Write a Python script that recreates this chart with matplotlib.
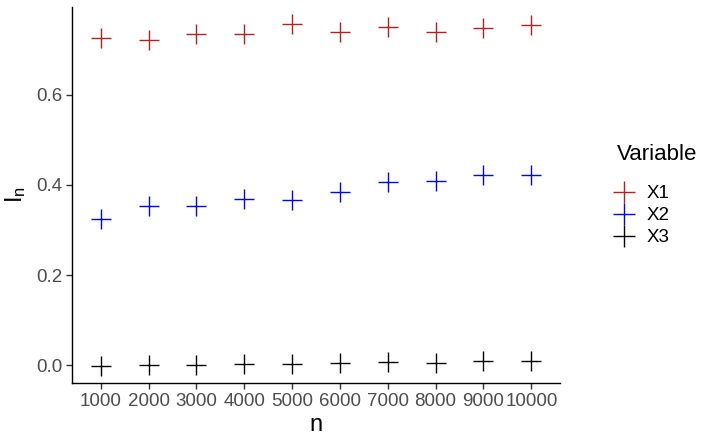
import matplotlib
matplotlib.use('Agg')
import matplotlib.pyplot as plt
import numpy as np

# sample sizes (discrete axis) and estimated index I_n per variable
n_labels = ['1000', '2000', '3000', '4000', '5000', '6000', '7000', '8000', '9000', '10000']
x1 = [0.725, 0.720, 0.733, 0.733, 0.756, 0.738, 0.749, 0.738, 0.747, 0.754]
x2 = [0.325, 0.353, 0.353, 0.369, 0.367, 0.384, 0.406, 0.408, 0.422, 0.422]
x3 = [-0.001, 0.002, 0.002, 0.004, 0.004, 0.006, 0.008, 0.006, 0.011, 0.010]

series = [('X1', x1, '#B22222'), ('X2', x2, '#0000FF'), ('X3', x3, '#000000')]

plt.rcParams['font.family'] = ['Liberation Sans', 'DejaVu Sans']
fig = plt.figure(figsize=(7.19, 4.43), dpi=100)
ax = fig.add_axes([0.1001, 0.1354, 0.6788, 0.8488])

pos = np.arange(1, len(n_labels) + 1)
for name, vals, col in series:
    ax.plot(pos, vals, ls='none', marker='+', ms=14.5, mew=1.0, color=col, label=name)

ax.set_xlim(0.4, len(n_labels) + 0.6)
lo = min(min(s[1]) for s in series)
hi = max(max(s[1]) for s in series)
pad = 0.05 * (hi - lo)
ax.set_ylim(lo - pad, hi + pad)
ax.set_xticks(pos)
ax.set_xticklabels(n_labels)
ax.set_yticks([0.0, 0.2, 0.4, 0.6])
ax.set_yticklabels(['0.0', '0.2', '0.4', '0.6'])

for s in ['top', 'right']:
    ax.spines[s].set_visible(False)
for s in ['left', 'bottom']:
    ax.spines[s].set_linewidth(1.0)
ax.tick_params(axis='both', length=4, width=1.0, color='#333333',
               labelcolor='#4D4D4D', labelsize=13.5, pad=3)

ax.set_xlabel('n', fontsize=17, labelpad=3)
ax.set_ylabel(r'$\mathregular{I_n}$', fontsize=17, labelpad=6)

# legend: title as separate text to get ggplot-like spacing
fig.text(617 / 719, 1 - 155 / 443, 'Variable', fontsize=16, ha='left', va='center')
fig.legend(handles=ax.get_lines(), loc='upper left',
           bbox_to_anchor=(612 / 719, 1 - 185 / 443), frameon=False,
           fontsize=13.5, handlelength=1.3, handletextpad=0.55,
           labelspacing=0.27, markerscale=1.1, borderaxespad=0, borderpad=0)

fig.savefig('out.png', dpi=100)
